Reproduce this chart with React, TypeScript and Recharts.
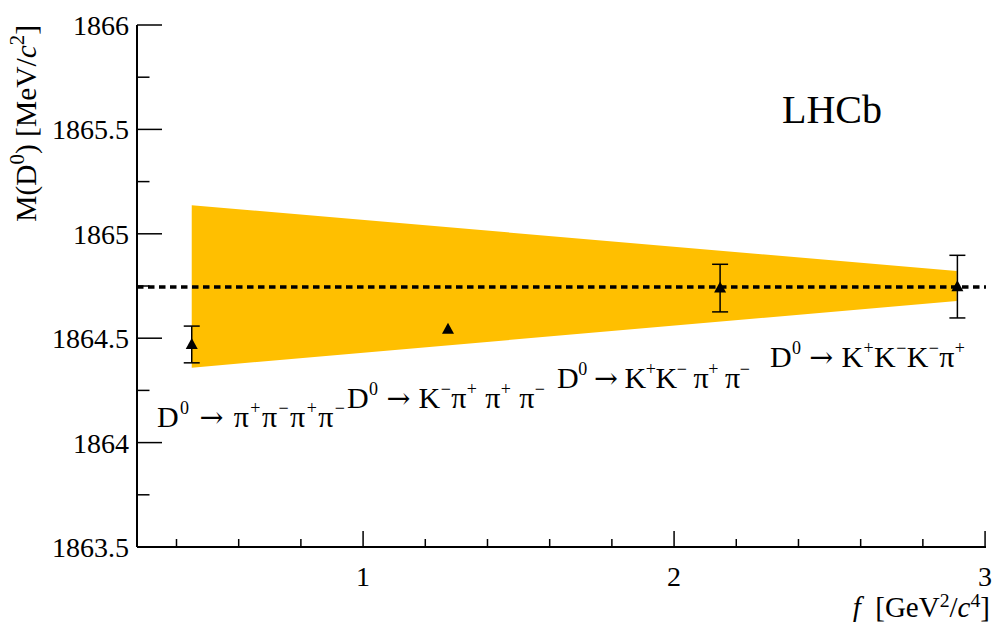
import React from "react";
import {
  ComposedChart,
  XAxis,
  YAxis,
  Area,
  Scatter,
  ErrorBar,
  ReferenceLine,
} from "recharts";

// ---- data ----
const xTicks = [0.4, 0.6, 0.8, 1, 1.2, 1.4, 1.6, 1.8, 2, 2.2, 2.4, 2.6, 2.8, 3];
const xMajorTicks = [1, 2, 3];
const yTicks = [1863.5, 1863.75, 1864, 1864.25, 1864.5, 1864.75, 1865, 1865.25, 1865.5, 1865.75, 1866];
const yMajorTicks = [1863.5, 1864, 1864.5, 1865, 1865.5, 1866];

const pointF = [0.449, 1.273, 2.148, 2.911];
const pointMass = [1864.47, 1864.543, 1864.74, 1864.747];
const pointErr = [0.088, 0, 0.114, 0.15];

const bandF = [0.449, 2.909];
const bandLow = [1864.359, 1864.678];
const bandHigh = [1865.137, 1864.822];

const averageMass = 1864.745;

const channelLabels = [
  [{ t: "D", s: "0" }, { t: " " }, { t: "\u2192", a: true }, { t: " \u03c0", s: "+" }, { t: "\u03c0", s: "\u2212" }, { t: "\u03c0", s: "+" }, { t: "\u03c0", s: "\u2212" }],
  [{ t: "D", s: "0" }, { t: " " }, { t: "\u2192", a: true }, { t: " K", s: "\u2212" }, { t: "\u03c0", s: "+" }, { t: " \u03c0", s: "+" }, { t: " \u03c0", s: "\u2212" }],
  [{ t: "D", s: "0" }, { t: " " }, { t: "\u2192", a: true }, { t: " K", s: "+" }, { t: "K", s: "\u2212" }, { t: " \u03c0", s: "+" }, { t: " \u03c0", s: "\u2212" }],
  [{ t: "D", s: "0" }, { t: " " }, { t: "\u2192", a: true }, { t: " K", s: "+" }, { t: "K", s: "\u2212" }, { t: "K", s: "\u2212" }, { t: "\u03c0", s: "+" }],
];
const channelPos = [
  [157, 427, 188],
  [347, 408, 198],
  [557, 388, 193],
  [770, 367, 195],
];

const bandData = bandF.map((f, i) => ({ x: f, range: [bandLow[i], bandHigh[i]] }));
const pointData = pointF.map((f, i) => ({ x: f, y: pointMass[i], err: pointErr[i] }));

// ---- style ----
const FONT = "'Liberation Serif', 'Times New Roman', serif";
const ARROW_FONT = "'DejaVu Serif', serif";
const X_DOMAIN: [number, number] = [0.273, 3.003];
const Y_DOMAIN: [number, number] = [1863.5, 1866];

const isMajor = (v: number, majors: number[]) => majors.some((m) => Math.abs(m - v) < 1e-9);

const BottomTick = (props: any) => {
  const { x, y, payload } = props;
  const major = isMajor(payload.value, xMajorTicks);
  return (
    <g>
      <line x1={x} x2={x} y1={y} y2={y - (major ? 16 : 8)} stroke="#000" strokeWidth={1.5} />
      {major && (
        <text x={x} y={y + 39} textAnchor="middle" fontFamily={FONT} fontSize={28} fill="#000">
          {String(payload.value)}
        </text>
      )}
    </g>
  );
};

const TopTick = (props: any) => {
  const { x, y, payload } = props;
  const major = isMajor(payload.value, xMajorTicks);
  return <line x1={x} x2={x} y1={y} y2={y + (major ? 16 : 8)} stroke="#000" strokeWidth={1.5} />;
};

const LeftTick = (props: any) => {
  const { x, y, payload } = props;
  const major = isMajor(payload.value, yMajorTicks);
  return (
    <g>
      <line x1={x} x2={x + (major ? 25 : 12.5)} y1={y} y2={y} stroke="#000" strokeWidth={1.5} />
      {major && (
        <text x={x - 8} y={y + 10} textAnchor="end" fontFamily={FONT} fontSize={28} fill="#000">
          {String(payload.value)}
        </text>
      )}
    </g>
  );
};

const RightTick = (props: any) => {
  const { x, y, payload } = props;
  const major = isMajor(payload.value, yMajorTicks);
  return <line x1={x} x2={x - (major ? 25 : 12.5)} y1={y} y2={y} stroke="#000" strokeWidth={1.5} />;
};

const Triangle = (props: any) => {
  const { cx, cy } = props;
  if (cx == null || cy == null) return null;
  return <polygon points={`${cx},${cy - 6.5} ${cx - 6},${cy + 4.5} ${cx + 6},${cy + 4.5}`} fill="#000" />;
};

type Part = { t: string; s?: string; i?: boolean; a?: boolean };

const Formula = ({
  x,
  y,
  parts,
  size,
  anchor,
  transform,
  supScale,
  supShift,
  length,
}: {
  x: number;
  y: number;
  parts: Part[];
  size: number;
  anchor?: string;
  transform?: string;
  supScale?: number;
  supShift?: number;
  length?: number;
}) => {
  const shift = size * (supShift || 0.42);
  const kids: React.ReactNode[] = [];
  let cur = 0;
  parts.forEach((p, k) => {
    if (p.t) {
      kids.push(
        <tspan
          key={k + "b"}
          dy={-cur}
          fontStyle={p.i ? "italic" : "normal"}
          fontFamily={p.a ? ARROW_FONT : undefined}
          fontSize={p.a ? size * 0.95 : undefined}
        >
          {p.t}
        </tspan>
      );
      cur = 0;
    }
    if (p.s) {
      kids.push(
        <tspan key={k + "s"} dy={-shift - cur} fontSize={size * (supScale || 0.62)}>
          {p.s}
        </tspan>
      );
      cur = -shift;
    }
  });
  return (
    <text
      x={x}
      y={y}
      fontFamily={FONT}
      fontSize={size}
      fill="#000"
      textAnchor={anchor || "start"}
      transform={transform}
      textLength={length}
      lengthAdjust={length ? "spacing" : undefined}
      style={{ whiteSpace: "pre" }}
    >
      {kids}
    </text>
  );
};

export default function App() {
  return (
    <div style={{ position: "absolute", left: 0, top: 0, width: 994, height: 622, background: "#fff" }}>
      <ComposedChart
        width={994}
        height={622}
        data={bandData}
        margin={{ top: 25, right: 8, bottom: 0, left: 0 }}
      >
        <XAxis
          xAxisId={0}
          dataKey="x"
          type="number"
          domain={X_DOMAIN}
          allowDataOverflow
          ticks={xTicks}
          interval={0}
          height={75}
          tickSize={0}
          tickMargin={0}
          tickLine={false}
          axisLine={{ stroke: "#000", strokeWidth: 2 }}
          tick={<BottomTick />}
        />
        <XAxis
          xAxisId="top"
          orientation="top"
          dataKey="x"
          type="number"
          domain={X_DOMAIN}
          allowDataOverflow
          ticks={xTicks}
          interval={0}
          height={0}
          tickSize={0}
          tickMargin={0}
          tickLine={false}
          axisLine={{ stroke: "#000", strokeWidth: 2 }}
          tick={<TopTick />}
        />
        <YAxis
          yAxisId={0}
          type="number"
          domain={Y_DOMAIN}
          allowDataOverflow
          ticks={yTicks}
          interval={0}
          width={137}
          tickSize={0}
          tickMargin={0}
          tickLine={false}
          axisLine={{ stroke: "#000", strokeWidth: 2 }}
          tick={<LeftTick />}
        />
        <YAxis
          yAxisId="right"
          orientation="right"
          type="number"
          domain={Y_DOMAIN}
          allowDataOverflow
          ticks={yTicks}
          interval={0}
          width={0}
          tickSize={0}
          tickMargin={0}
          tickLine={false}
          axisLine={{ stroke: "#000", strokeWidth: 2 }}
          tick={<RightTick />}
        />
        <Area
          type="linear"
          dataKey="range"
          stroke="none"
          fill="#FFBF00"
          fillOpacity={1}
          isAnimationActive={false}
          dot={false}
          activeDot={false}
        />
        <ReferenceLine
          y={averageMass}
          stroke="#000"
          strokeWidth={3.5}
          strokeDasharray="6.5 4.5"
          ifOverflow="extendDomain"
        />
        <Scatter data={pointData} dataKey="y" shape={<Triangle />} isAnimationActive={false}>
          <ErrorBar dataKey="err" direction="y" width={8} stroke="#000" strokeWidth={1.5} isAnimationActive={false} />
        </Scatter>
      </ComposedChart>
      <svg
        width={994}
        height={622}
        style={{ position: "absolute", left: 0, top: 0, pointerEvents: "none" }}
      >
        <Formula
          x={0}
          y={0}
          size={29.5}
          anchor="end"
          supScale={0.7}
          transform="translate(36,25) rotate(-90)"
          parts={[
            { t: "M(D", s: "0" },
            { t: ") [MeV/" },
            { t: "c", i: true, s: "2" },
            { t: "]" },
          ]}
        />
        <Formula
          x={990}
          y={617}
          size={29}
          anchor="end"
          supScale={0.68}
          supShift={0.36}
          parts={[
            { t: "f", i: true },
            { t: "  [GeV", s: "2" },
            { t: "/" },
            { t: "c", i: true, s: "4" },
            { t: "]" },
          ]}
        />
        <text x={782} y={123} fontFamily={FONT} fontSize={40} fill="#000">
          LHCb
        </text>
        {channelLabels.map((parts, i) => (
          <Formula
            key={i}
            x={channelPos[i][0]}
            y={channelPos[i][1]}
            size={30}
            supScale={0.6}
            length={channelPos[i][2]}
            parts={parts}
          />
        ))}
      </svg>
    </div>
  );
}
